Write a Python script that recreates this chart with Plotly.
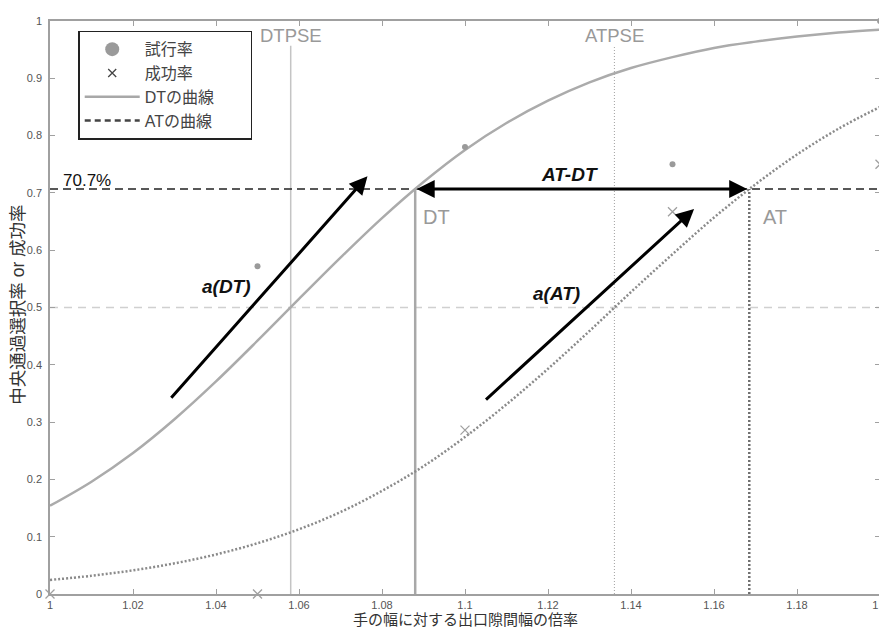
import plotly.graph_objects as go

# ---- data ----
x_grid = [1.00, 1.01, 1.02, 1.03, 1.04, 1.05, 1.06, 1.07, 1.08, 1.09, 1.10,
          1.11, 1.12, 1.13, 1.14, 1.15, 1.16, 1.17, 1.18, 1.19, 1.20]
dt_curve = [0.154, 0.196, 0.246, 0.305, 0.371, 0.442, 0.515, 0.587, 0.656, 0.719, 0.775,
            0.822, 0.861, 0.893, 0.918, 0.937, 0.953, 0.964, 0.973, 0.980, 0.985]
at_curve = [0.0245, 0.0318, 0.0413, 0.0535, 0.069, 0.0886, 0.113, 0.143, 0.180, 0.223, 0.274,
            0.331, 0.393, 0.459, 0.527, 0.593, 0.657, 0.715, 0.767, 0.812, 0.850]

trial_x = [1.05, 1.10, 1.15, 1.20]
trial_y = [0.572, 0.780, 0.750, 1.0]
success_x = [1.00, 1.05, 1.10, 1.15, 1.20]
success_y = [0.0, 0.0, 0.286, 0.667, 0.750]

level = 0.707
dtpse = 1.058
atpse = 1.136
dt_x = 1.088
at_x = 1.1685

x_ticks = [1, 1.02, 1.04, 1.06, 1.08, 1.1, 1.12, 1.14, 1.16, 1.18, 1.2]
x_tick_text = ["1", "1.02", "1.04", "1.06", "1.08", "1.1", "1.12", "1.14", "1.16", "1.18", "1.2"]
y_ticks = [0, 0.1, 0.2, 0.3, 0.4, 0.5, 0.6, 0.7, 0.8, 0.9, 1]
y_tick_text = ["0", "0.1", "0.2", "0.3", "0.4", "0.5", "0.6", "0.7", "0.8", "0.9", "1"]

FONT = "Liberation Sans, Arial, Noto Sans CJK JP, sans-serif"

fig = go.Figure()

# reference lines
fig.add_trace(go.Scatter(x=[1.0, 1.2], y=[0.5, 0.5], mode="lines",
                         line=dict(color="#d0d0d0", width=1.5, dash="8px,6px"),
                         showlegend=False, hoverinfo="skip"))
fig.add_trace(go.Scatter(x=[dtpse, dtpse], y=[0, 0.957], mode="lines",
                         line=dict(color="#c4c4c4", width=1.5),
                         showlegend=False, hoverinfo="skip"))
fig.add_trace(go.Scatter(x=[atpse, atpse], y=[0, 0.957], mode="lines",
                         line=dict(color="#a0a0a0", width=1, dash="1px,2px"),
                         showlegend=False, hoverinfo="skip"))
fig.add_trace(go.Scatter(x=[1.0, 1.2], y=[level, level], mode="lines",
                         line=dict(color="#222222", width=1.5, dash="8px,5px"),
                         showlegend=False, hoverinfo="skip"))
fig.add_trace(go.Scatter(x=[dt_x, dt_x], y=[0, level], mode="lines",
                         line=dict(color="#a8a8a8", width=2.5),
                         showlegend=False, hoverinfo="skip"))
fig.add_trace(go.Scatter(x=[at_x, at_x], y=[0, level], mode="lines",
                         line=dict(color="#707070", width=2.5, dash="2px,2px"),
                         showlegend=False, hoverinfo="skip"))

# curves
fig.add_trace(go.Scatter(x=x_grid, y=dt_curve, mode="lines", line_shape="spline",
                         line=dict(color="#ababab", width=2.5),
                         showlegend=False, hoverinfo="skip"))
fig.add_trace(go.Scatter(x=x_grid, y=at_curve, mode="lines", line_shape="spline",
                         line=dict(color="#8a8a8a", width=2.5, dash="2px,2px"),
                         showlegend=False, hoverinfo="skip"))

# data points
fig.add_trace(go.Scatter(x=trial_x, y=trial_y, mode="markers",
                         marker=dict(color="#9a9a9a", size=6, symbol="circle"),
                         showlegend=False, cliponaxis=False))
fig.add_trace(go.Scatter(x=success_x, y=success_y, mode="markers",
                         marker=dict(color="#a0a0a0", size=9, symbol="x-thin",
                                     line=dict(color="#a0a0a0", width=1.3)),
                         showlegend=False, cliponaxis=False))

# legend entries
NB = "\u00a0"
fig.add_trace(go.Scatter(x=[None], y=[None], mode="markers", name="試行率",
                         marker=dict(color="#9a9a9a", size=14, symbol="circle")))
fig.add_trace(go.Scatter(x=[None], y=[None], mode="markers", name="成功率",
                         marker=dict(color="#444444", size=8, symbol="x-thin",
                                     line=dict(color="#444444", width=1.3))))
fig.add_trace(go.Scatter(x=[None], y=[None], mode="lines", name="DTの曲線" + NB * 7,
                         line=dict(color="#a8a8a8", width=2.5)))
fig.add_trace(go.Scatter(x=[None], y=[None], mode="lines", name="ATの曲線",
                         line=dict(color="#444444", width=2.5, dash="6px,4px")))

# arrows
arrow_specs = [
    (1.0289, 0.340, 1.0765, 0.729),
    (1.1047, 0.337, 1.1552, 0.672),
]
for x0, y0, x1, y1 in arrow_specs:
    fig.add_annotation(x=x1, y=y1, ax=x0, ay=y0, xref="x", yref="y", axref="x", ayref="y",
                       text="", showarrow=True, arrowhead=2, arrowsize=1.2, arrowwidth=3,
                       arrowcolor="#000000")
fig.add_annotation(x=at_x - 0.0005, y=level, ax=dt_x, ay=level, xref="x", yref="y",
                   axref="x", ayref="y", text="", showarrow=True, arrowhead=2,
                   arrowsize=1.2, arrowwidth=3, arrowcolor="#000000", arrowside="end+start")

# text labels
labels = [
    (dtpse, 0.975, "DTPSE", "#999999", 18.5),
    (atpse, 0.975, "ATPSE", "#999999", 18.5),
    (1.0931, 0.658, "DT", "#999999", 20),
    (1.1747, 0.658, "AT", "#999999", 20),
    (1.0089, 0.722, "70.7%", "#111111", 17),
    (1.1252, 0.732, "<b><i>AT-DT</i></b>", "#111111", 19),
    (1.0426, 0.537, "<b><i>a(DT)</i></b>", "#111111", 19),
    (1.1220, 0.525, "<b><i>a(AT)</i></b>", "#111111", 19),
]
for lx, ly, txt, col, sz in labels:
    fig.add_annotation(x=lx, y=ly, xref="x", yref="y", text=txt, showarrow=False,
                       font=dict(family=FONT, size=sz, color=col))

# axis titles
fig.add_annotation(x=0.5, y=-0.045, xref="paper", yref="paper", yanchor="middle",
                   text="手の幅に対する出口隙間幅の倍率", showarrow=False,
                   font=dict(family=FONT, size=15, color="#333333"))
fig.add_annotation(x=-0.0385, y=0.505, xref="paper", yref="paper", textangle=-90,
                   xanchor="center", yanchor="middle",
                   text="中央通過選択率 or 成功率", showarrow=False,
                   font=dict(family=FONT, size=17.5, color="#333333"))

axis_common = dict(showgrid=False, zeroline=False, showline=True, linecolor="#a0a0a0",
                   linewidth=1.5, mirror="ticks", ticks="inside", ticklen=5,
                   tickcolor="#a0a0a0", tickwidth=1,
                   tickfont=dict(family=FONT, size=11, color="#555555"))

fig.update_xaxes(range=[1.0, 1.2], tickvals=x_ticks, ticktext=x_tick_text, **axis_common)
fig.update_yaxes(range=[0, 1], tickvals=y_ticks, ticktext=y_tick_text,
                 ticklabelstandoff=4, **axis_common)

fig.update_layout(
    width=887, height=631,
    margin=dict(l=42, r=14, t=7, b=45),
    plot_bgcolor="white", paper_bgcolor="white",
    font=dict(family=FONT),
    legend=dict(x=0.034, y=0.983, xanchor="left", yanchor="top",
                bgcolor="white", bordercolor="#222222", borderwidth=1.5,
                font=dict(family=FONT, size=16, color="#444444"),
                itemsizing="trace", tracegroupgap=0, itemwidth=55),
)

fig.write_html("out.html")
